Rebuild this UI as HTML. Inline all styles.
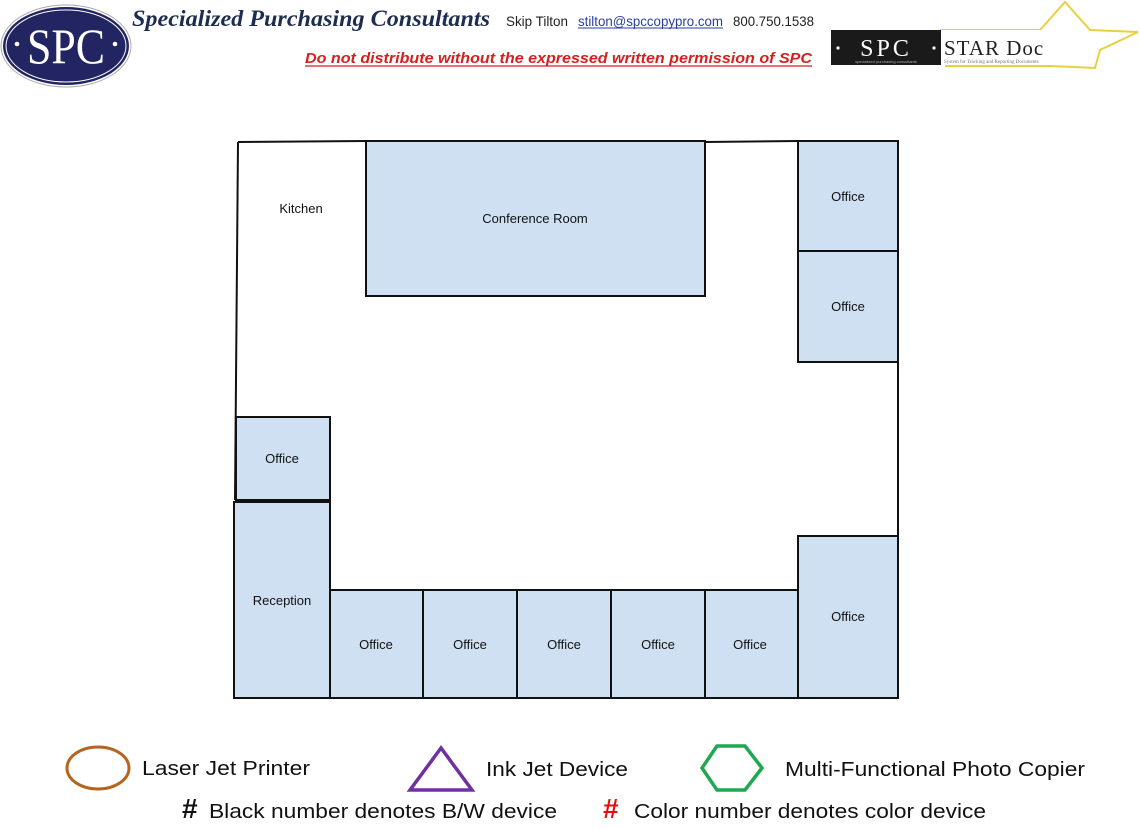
<!DOCTYPE html>
<html><head><meta charset="utf-8"><style>
html,body{margin:0;padding:0;background:#fff;width:1140px;height:828px;overflow:hidden}
svg{display:block}
</style></head><body>
<svg width="1140" height="828" viewBox="0 0 1140 828" xmlns="http://www.w3.org/2000/svg" font-family="Liberation Sans, sans-serif">
<!-- SPC logo -->
<ellipse cx="66" cy="46" rx="65" ry="41" fill="#fff" stroke="#aaa" stroke-width="1"/>
<ellipse cx="66" cy="46" rx="63" ry="39" fill="#232462"/>
<ellipse cx="66" cy="46" rx="60" ry="36" fill="none" stroke="#fff" stroke-width="1"/>
<text x="66" y="63" text-anchor="middle" font-family="Liberation Serif, serif" font-size="50" fill="#fff" textLength="78" lengthAdjust="spacingAndGlyphs">SPC</text>
<circle cx="17" cy="44" r="2.3" fill="#fff"/><circle cx="115" cy="44" r="2.3" fill="#fff"/>
<text x="132" y="26" font-family="Liberation Serif, serif" font-style="italic" font-weight="bold" font-size="23" fill="#1e2d4f" textLength="358" lengthAdjust="spacingAndGlyphs">Specialized Purchasing Consultants</text>
<text x="506" y="26" font-size="14" fill="#222" textLength="62" lengthAdjust="spacingAndGlyphs">Skip Tilton</text>
<text x="578" y="26" font-size="14" fill="#2a3fa0" textLength="145" lengthAdjust="spacingAndGlyphs">stilton@spccopypro.com</text>
<line x1="578" y1="28" x2="723" y2="28" stroke="#2a3fa0" stroke-width="1"/>
<text x="733" y="26" font-size="14" fill="#222" textLength="81" lengthAdjust="spacingAndGlyphs">800.750.1538</text>
<text x="305" y="63" font-size="15" font-style="italic" font-weight="bold" fill="#d42020" textLength="507" lengthAdjust="spacingAndGlyphs">Do not distribute without the expressed written permission of SPC</text>
<line x1="305" y1="66" x2="812" y2="66" stroke="#d42020" stroke-width="1.2"/>
<!-- STAR Doc logo -->
<polyline points="940,30 1040,30 1065,2 1090,30 1138,32 1100,50 1095,68 1050,66 945,66" fill="none" stroke="#e8d040" stroke-width="2"/>
<rect x="831" y="30" width="110" height="35" fill="#1a1a1a"/>
<text x="886" y="56" text-anchor="middle" font-family="Liberation Serif, serif" font-size="24" fill="#fff" letter-spacing="3">SPC</text>
<circle cx="838" cy="48" r="1.6" fill="#fff"/><circle cx="934" cy="48" r="1.6" fill="#fff"/>
<text x="886" y="63" text-anchor="middle" font-size="4" fill="#aaa">specialized purchasing consultants</text>
<rect x="941" y="30" width="140" height="35" fill="#fff"/>
<text x="944" y="55" font-family="Liberation Serif, serif" font-size="21" fill="#222" letter-spacing="1">STAR Doc</text>
<text x="944" y="63" font-family="Liberation Serif, serif" font-size="5" fill="#777">System for Tracking and Reporting Documents</text>
<!-- floor plan -->
<g stroke="#111" stroke-width="2" fill="#cfe0f2">
<line x1="238" y1="142" x2="366" y2="141" fill="none"/>
<line x1="705" y1="142" x2="798" y2="141" fill="none"/>
<line x1="238" y1="142" x2="235" y2="500" fill="none"/>
<line x1="898" y1="362" x2="898" y2="536" fill="none"/>
<rect x="366" y="141" width="339" height="155"/>
<rect x="798" y="141" width="100" height="110"/>
<rect x="798" y="251" width="100" height="111"/>
<rect x="236" y="417" width="94" height="83"/>
<rect x="234" y="502" width="96" height="196"/>
<rect x="330" y="590" width="93" height="108"/>
<rect x="423" y="590" width="94" height="108"/>
<rect x="517" y="590" width="94" height="108"/>
<rect x="611" y="590" width="94" height="108"/>
<rect x="705" y="590" width="93" height="108"/>
<rect x="798" y="536" width="100" height="162"/>
</g>
<g font-size="13" fill="#111" text-anchor="middle">
<text x="301" y="213">Kitchen</text>
<text x="535" y="223">Conference Room</text>
<text x="848" y="201">Office</text>
<text x="848" y="311">Office</text>
<text x="282" y="463">Office</text>
<text x="282" y="605">Reception</text>
<text x="376" y="649">Office</text>
<text x="470" y="649">Office</text>
<text x="564" y="649">Office</text>
<text x="658" y="649">Office</text>
<text x="750" y="649">Office</text>
<text x="848" y="621">Office</text>
</g>
<!-- legend -->
<ellipse cx="98" cy="768" rx="31" ry="21" fill="none" stroke="#b5651d" stroke-width="3"/>
<text x="142" y="775" font-size="20" fill="#111" textLength="168" lengthAdjust="spacingAndGlyphs">Laser Jet Printer</text>
<polygon points="441,748 410,790 472,790" fill="none" stroke="#7030a0" stroke-width="3.5"/>
<text x="486" y="776" font-size="20" fill="#111" textLength="142" lengthAdjust="spacingAndGlyphs">Ink Jet Device</text>
<polygon points="717,746 745,746 762,768 745,790 717,790 702,768" fill="none" stroke="#1fa84f" stroke-width="3.5"/>
<text x="785" y="776" font-size="20" fill="#111" textLength="300" lengthAdjust="spacingAndGlyphs">Multi-Functional Photo Copier</text>
<text x="182" y="818" font-size="28" font-weight="bold" fill="#111">#</text>
<text x="209" y="818" font-size="20" fill="#111" textLength="348" lengthAdjust="spacingAndGlyphs">Black number denotes B/W device</text>
<text x="603" y="818" font-size="28" font-weight="bold" fill="#e01010">#</text>
<text x="634" y="818" font-size="20" fill="#111" textLength="352" lengthAdjust="spacingAndGlyphs">Color number denotes color device</text>
</svg>
</body></html>
